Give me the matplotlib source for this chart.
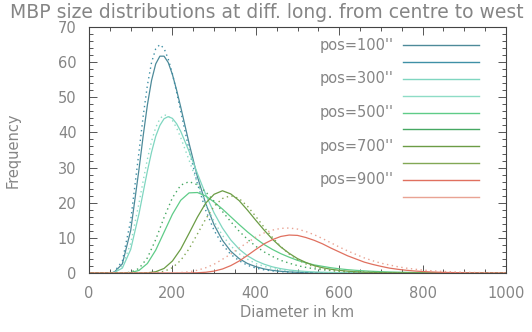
"""
MBP size distributions at different longitudes, centre to west limb
"""
import matplotlib.pyplot as plt
from matplotlib.ticker import MultipleLocator

# diameter grid (km) the broad curves were read at
diameter = list(range(0, 1001, 20))
# the narrow pos=100/300 curves were read a bit more finely around the peak
diameter_fine = (list(range(0, 120, 20)) + list(range(120, 220, 10))
                 + list(range(220, 1001, 20)))

# frequency curves, solid and dotted, one pair per position
pos100_solid = [0, 0, 0, 0.16, 2.6, 12.1,
                29.6, 39.1, 47.8, 54.8, 59.5, 61.7, 61.7, 59.9, 56.5, 52.1,
                47.2, 36.9, 27.4, 19.7, 13.7,
                9.3, 6.2, 4.1, 2.7, 1.8, 1.15, 0.75, 0.48, 0.31, 0.2, 0.13, 0.08, 0.05, 0.03, 0.02,
                0, 0, 0, 0, 0, 0, 0, 0, 0, 0, 0, 0, 0, 0, 0, 0, 0, 0, 0, 0]
pos100_dotted = [0, 0, 0, 0.23, 3.4, 15.0,
                 34.6, 44.7, 53.4, 59.9, 63.8, 65.0, 63.9, 60.9, 56.7, 51.5,
                 46.0, 35.0, 25.4, 17.8, 12.1,
                 8.1, 5.3, 3.5, 2.2, 1.4, 0.9, 0.59, 0.38, 0.24, 0.15, 0.1, 0.06, 0.04, 0.02, 0,
                 0, 0, 0, 0, 0, 0, 0, 0, 0, 0, 0, 0, 0, 0, 0, 0, 0, 0, 0, 0]
pos300_solid = [0, 0, 0, 0.1, 1.4, 6.7,
                16.9, 23.0, 29.0, 34.4, 38.9, 42.0, 43.9, 44.5, 44.0, 42.5,
                40.3, 34.6, 28.3, 22.3, 17.1,
                12.8, 9.4, 6.8, 4.9, 3.5, 2.5, 1.75, 1.23, 0.86, 0.61, 0.43, 0.3, 0.21, 0.15, 0.1,
                0.07, 0.05, 0.03, 0.02, 0, 0, 0, 0, 0, 0, 0, 0, 0, 0, 0, 0, 0, 0, 0, 0]
pos300_dotted = [0, 0, 0, 0.15, 1.9, 8.4,
                 19.9, 26.3, 32.4, 37.5, 41.4, 43.9, 45.0, 44.7, 43.4, 41.3,
                 38.5, 32.1, 25.6, 19.6, 14.7,
                 10.7, 7.7, 5.5, 3.9, 2.7, 1.9, 1.3, 0.91, 0.63, 0.44, 0.3, 0.21, 0.14, 0.1, 0.07,
                 0.05, 0.03, 0.02, 0, 0, 0, 0, 0, 0, 0, 0, 0, 0, 0, 0, 0, 0, 0, 0, 0]
pos500_solid = [0, 0, 0, 0, 0, 0.11, 0.74, 2.7, 6.5, 11.6, 16.7, 20.7, 22.8, 22.9, 21.9, 20.2,
                18.2, 16.0, 13.8, 11.7, 9.8, 8.1, 6.7, 5.5, 4.5, 3.6, 2.9, 2.3, 1.9, 1.5, 1.2,
                0.95, 0.76, 0.61, 0.48, 0.38, 0.3, 0.24, 0.19, 0.15, 0.12, 0.09, 0.07, 0.05, 0.04,
                0.03, 0.02, 0.01, 0, 0, 0]
pos500_dotted = [0, 0, 0, 0, 0.01, 0.22, 1.3, 4.3, 9.5, 15.8, 21.4, 25.0, 26.0, 25.1, 23.1, 20.4,
                 17.5, 14.6, 11.9, 9.6, 7.6, 6.0, 4.7, 3.6, 2.8, 2.1, 1.6, 1.2, 0.93, 0.7, 0.53,
                 0.4, 0.3, 0.22, 0.17, 0.12, 0.09, 0.07, 0.05, 0.04, 0.03, 0.02, 0.01, 0, 0,
                 0, 0, 0, 0, 0, 0]
pos700_solid = [0, 0, 0, 0, 0, 0, 0, 0.06, 0.36, 1.3, 3.4, 6.8, 11.3, 15.9, 19.9, 22.4,
                23.4, 22.5, 20.6, 17.9, 15.0, 12.2, 9.6, 7.4, 5.6, 4.1, 3.0, 2.1, 1.5, 1.07, 0.75,
                0.52, 0.36, 0.24, 0.17, 0.11, 0.08, 0.05, 0.03, 0.02, 0, 0, 0, 0, 0,
                0, 0, 0, 0, 0, 0]
pos700_dotted = [0, 0, 0, 0, 0, 0, 0, 0.01, 0.1, 0.47, 1.5, 3.6, 6.9, 11.1, 15.4, 19.0,
                 21.2, 22.0, 21.2, 19.0, 16.1, 13.0, 10.1, 7.5, 5.4, 3.8, 2.6, 1.8, 1.2, 0.77, 0.5,
                 0.31, 0.2, 0.13, 0.08, 0.05, 0.03, 0.02, 0, 0, 0, 0, 0, 0, 0,
                 0, 0, 0, 0, 0, 0]
pos900_solid = [0, 0, 0, 0, 0, 0, 0, 0, 0, 0, 0, 0, 0.02, 0.07, 0.21, 0.54,
                1.14, 2.1, 3.4, 5.0, 6.7, 8.3, 9.5, 10.4, 10.8, 10.7, 10.1, 9.3, 8.3, 7.1, 6.0,
                4.9, 4.0, 3.1, 2.45, 1.9, 1.4, 1.06, 0.79, 0.58, 0.42, 0.3, 0.21, 0.15, 0.11,
                0.08, 0.05, 0.04, 0.03, 0.02, 0.01]
pos900_dotted = [0, 0, 0, 0, 0, 0, 0, 0, 0, 0, 0.04, 0.13, 0.36, 0.78, 1.5, 2.5,
                 3.9, 5.4, 7.1, 8.7, 10.2, 11.4, 12.2, 12.7, 12.8, 12.5, 11.8, 10.9, 9.8, 8.6, 7.4,
                 6.3, 5.3, 4.3, 3.5, 2.8, 2.3, 1.8, 1.4, 1.1, 0.84, 0.65, 0.5, 0.38, 0.29,
                 0.21, 0.16, 0.12, 0.09, 0.07, 0.05]

labels = ["pos=100''", "pos=300''", "pos=500''", "pos=700''", "pos=900''"]
curves = [(diameter_fine, pos100_solid, pos100_dotted),
          (diameter_fine, pos300_solid, pos300_dotted),
          (diameter, pos500_solid, pos500_dotted),
          (diameter, pos700_solid, pos700_dotted),
          (diameter, pos900_solid, pos900_dotted)]
colors = [('#4d8a99', '#3f90a6'), ('#7fd6c0', '#8edcc6'), ('#5fcc88', '#46a862'),
          ('#6b9c45', '#82a855'), ('#e0705f', '#e9a393')]

grey = '#858585'

fig = plt.figure(figsize=(5.32, 3.32), dpi=100)
ax = fig.add_axes([89 / 532, 59 / 332, 417 / 532, 246 / 332])

for (xs, solid, dotted), (c1, c2) in zip(curves, colors):
    ax.plot(xs, solid, color=c1, lw=0.9)
    ax.plot(xs, dotted, color=c2, lw=1.0, ls=(0, (1, 2.5)))

ax.set_xlim(0, 1000)
ax.set_ylim(0, 70)
ax.xaxis.set_major_locator(MultipleLocator(200))
ax.xaxis.set_minor_locator(MultipleLocator(50))
ax.yaxis.set_major_locator(MultipleLocator(10))
ax.yaxis.set_minor_locator(MultipleLocator(2))
ax.tick_params(which='both', direction='in', top=True, right=True, color='#555555',
               labelcolor=grey, labelsize=10.5, width=0.7)
ax.tick_params(which='major', length=6, pad=9)
ax.tick_params(which='minor', length=3)
for sp in ax.spines.values():
    sp.set_color('#444444')
    sp.set_linewidth(0.8)

ax.set_xlabel('Diameter in km', color=grey, fontsize=10.5, labelpad=3)
ax.set_ylabel('Frequency', color=grey, fontsize=10.5)
ax.yaxis.set_label_coords(-0.165, 0.5)

fig.text(0.502, 0.962, 'MBP size distributions at diff. long. from centre to west',
         color=grey, fontsize=13.5, ha='center', va='center')

# IDL style legend: label on the first of each pair, a line for every curve
y0 = 0.9256
step = 0.0683
k = 0
for lab, (c1, c2) in zip(labels, colors):
    for j, c in enumerate((c1, c2)):
        yy = y0 - k * step
        ax.plot([0.753, 0.935], [yy, yy], color=c, lw=1.0, transform=ax.transAxes)
        if j == 0:
            ax.text(0.552, yy, lab, color=grey, fontsize=10.5, va='center', ha='left',
                    transform=ax.transAxes)
        k += 1

fig.savefig('out.png', dpi=100)
